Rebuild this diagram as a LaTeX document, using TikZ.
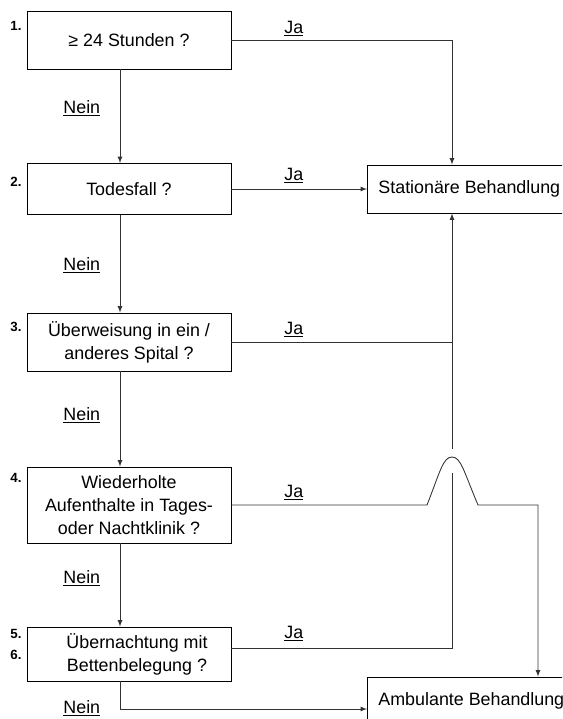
\documentclass[tikz,border=0pt]{standalone}
\usepackage{fontspec}
\setmainfont{Liberation Sans}

\begin{document}
\begin{tikzpicture}[x=0.75pt, y=-0.75pt, >=latex, line width=0.65pt,
    txt/.style={font=\fontsize{13.4pt}{17.25pt}\selectfont},
    frage/.style={txt, rectangle, draw, minimum width=153pt, align=center},
    ziel/.style={txt, rectangle, draw, anchor=west, minimum height=36pt, inner xsep=8.25pt},
    ja/.style={txt, anchor=base west, inner sep=0pt},
    nein/.style={txt, anchor=base west, inner sep=0pt},
    nr/.style={anchor=base east, inner sep=0pt, font=\fontsize{10pt}{12pt}\selectfont\bfseries},
    con/.style={draw=black!80}]
  \useasboundingbox (0,0) rectangle (562,719);
  \clip (0,0) rectangle (562,719);

  % questions
  \node[frage, minimum height=43.5pt] (q1) at (129,40)  {≥ 24 Stunden ?};
  \node[frage, minimum height=38.25pt] (q2) at (129,189) {Todesfall ?};
  \node[frage, minimum height=43.5pt] (q3) at (129,342) {Überweisung in ein /\\anderes Spital ?};
  \node[frage, minimum height=57pt]   (q4) at (129,505) {Wiederholte\\Aufenthalte in Tages-\\oder Nachtklinik ?};
  \node[frage, minimum height=40.5pt] (q5) at (129,654) {\hspace*{12pt}Übernachtung mit\\\hspace*{12pt}Bettenbelegung ?};

  % results
  \node[ziel] (stat) at (367,189) {Stationäre Behandlung};
  \node[ziel] (amb)  at (367,701) {Ambulante Behandlung};

  % numbers
  \node[nr] (n1) at (22,30)  {1.};
  \node[nr] (n2) at (22,186) {2.};
  \node[nr] (n3) at (22,331) {3.};
  \node[nr] (n4) at (22,482) {4.};
  \node[nr] (n5) at (22,638) {5.};
  \node[nr] (n6) at (22,659) {6.};

  % labels
  \node[ja] (ja1) at (284,33)  {\underline{Ja}};
  \node[ja] (ja2) at (284,180) {\underline{Ja}};
  \node[ja] (ja3) at (284,334) {\underline{Ja}};
  \node[ja] (ja4) at (284,497) {\underline{Ja}};
  \node[ja] (ja5) at (284,638) {\underline{Ja}};
  \node[nein] (nein1) at (63,113) {\underline{Nein}};
  \node[nein] (nein2) at (63,270) {\underline{Nein}};
  \node[nein] (nein3) at (63,420) {\underline{Nein}};
  \node[nein] (nein4) at (63,583) {\underline{Nein}};
  \node[nein] (nein5) at (63,713) {\underline{Nein}};

  % helper points
  \coordinate (rail)   at (452,0);
  \coordinate (rail2)  at (538,0);
  \coordinate (gapTop) at (452,449);
  \coordinate (gapBot) at (452,473);
  \coordinate (bumpL)  at (427,505);
  \coordinate (bumpR)  at (478,505);
  \coordinate (q5ja)   at ([yshift=4.5pt]q5.east);

  % Nein path
  \draw[con, ->] ([xshift=-6.75pt]q1.south) -- ([xshift=-6.75pt]q2.north);
  \draw[con, ->] ([xshift=-6.75pt]q2.south) -- ([xshift=-6.75pt]q3.north);
  \draw[con, ->] ([xshift=-6.75pt]q3.south) -- ([xshift=-6.75pt]q4.north);
  \draw[con, ->] ([xshift=-6.75pt]q4.south) -- ([xshift=-6.75pt]q5.north);
  \draw[con, ->] ([xshift=-6.75pt]q5.south) |- ([yshift=-6pt]amb.west);

  % Ja path
  \draw[con, ->] (q1.east) -- (rail |- q1.east) -- (rail |- stat.north);
  \draw[con, ->] (q2.east) -- (stat.west);
  \draw[con] (q3.east) -- (rail |- q3.east);
  \draw[con] (q5ja) -- (rail |- q5ja) -- (gapBot);
  \draw[con, ->] (gapTop) -- (rail |- stat.south);
  \draw[con, ->] (q4.east) -- (bumpL) .. controls (440,472) and (443,457) .. (452,457)
    .. controls (461,457) and (464,472) .. (bumpR) -- (rail2 |- q4.east) -- (rail2 |- amb.north);
\end{tikzpicture}
\end{document}
